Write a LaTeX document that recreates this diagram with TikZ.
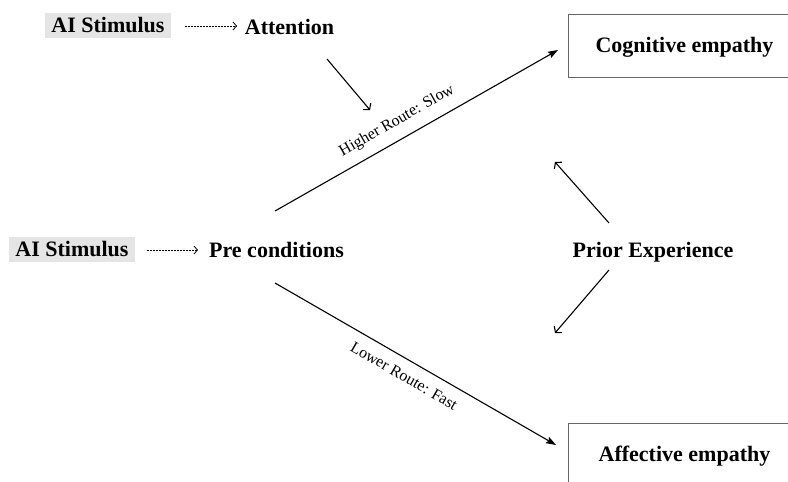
\documentclass[tikz,border=0pt]{standalone}
\usepackage{fontspec}
\setmainfont{Liberation Serif}
\usetikzlibrary{arrows.meta}
\begin{document}
\begin{tikzpicture}[x=1pt,y=-1pt,
  big/.style={font=\bfseries\fontsize{22}{26}\selectfont, inner sep=0pt, anchor=base},
  stim/.style={font=\bfseries\fontsize{22}{26}\selectfont, inner sep=0pt, fill=black!10,
     minimum width=126pt, minimum height=25pt, text height=14.6pt, text depth=0pt},
  empbox/.style={draw=black!60, line width=1pt, font=\bfseries\fontsize{22}{26}\selectfont,
     inner sep=0pt, minimum width=233pt, minimum height=63pt, text height=14.6pt, text depth=0pt},
  route/.style={font=\fontsize{16}{19}\selectfont, inner sep=0pt},
  dotarrow/.style={line width=0.8pt, dash pattern=on 1.5pt off 1.5pt, -{Straight Barb[length=3.5pt,width=8pt]}},
  openarrow/.style={line width=1.1pt, -{Straight Barb[length=4pt,width=10pt]}},
  fillarrow/.style={line width=1.1pt, -{Stealth[length=10pt,width=7pt,inset=1.5pt]}}]
\clip (0,0) rectangle (788,482);
\fill[white] (0,0) rectangle (788,482);
% nodes
\node[stim] (s1) at (108,25.5) {AI Stimulus};
\node[big] (att) at (289.5,34) {Attention};
\node[stim] (s2) at (72,249.5) {AI Stimulus};
\node[big] (pre) at (276.5,257) {Pre conditions};
\node[big] (prior) at (653,257) {Prior Experience};
\node[empbox] (cog) at (684.5,45.5) {Cognitive empathy};
\node[empbox] (aff) at (684.5,454.5) {Affective empathy};
% connector end points
\coordinate (d1a) at (185,26);   \coordinate (d1b) at (237,26);
\coordinate (d2a) at (147,250);  \coordinate (d2b) at (198,250);
\coordinate (attA) at (327,59);  \coordinate (attB) at (370,110);
\coordinate (hiA) at (275,211);  \coordinate (hiB) at (558,50);
\coordinate (loA) at (275,283);  \coordinate (loB) at (556,445);
\coordinate (pUa) at (609,223);  \coordinate (pUb) at (555,162);
\coordinate (pLa) at (609,270);  \coordinate (pLb) at (555,333);
% connectors
\draw[dotarrow] (d1a) -- (d1b);
\draw[dotarrow] (d2a) -- (d2b);
\draw[openarrow] (attA) -- (attB);
\draw[fillarrow] (hiA) -- (hiB);
\draw[fillarrow] (loA) -- (loB);
\draw[openarrow] (pUa) -- (pUb);
\draw[openarrow] (pLa) -- (pLb);
% route labels
\node[route, rotate=29.7] (hil) at (397,121) {Higher Route: Slow};
\node[route, rotate=-30] (lol) at (404,376) {Lower Route: Fast};
\end{tikzpicture}
\end{document}
